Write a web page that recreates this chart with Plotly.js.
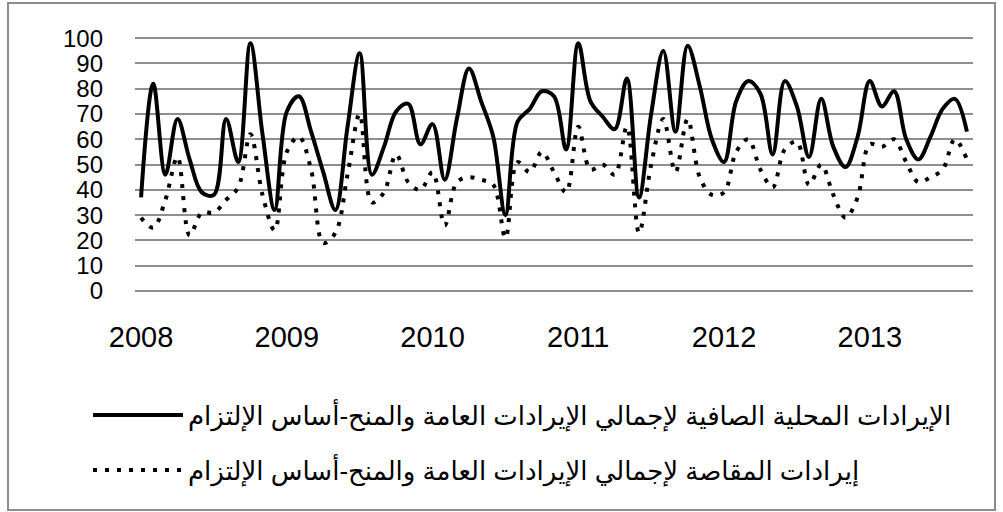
<!DOCTYPE html>
<html>
<head>
<meta charset="utf-8">
<script src="https://cdn.plot.ly/plotly-3.0.1.min.js"></script>
<style>
  html, body { margin: 0; padding: 0; background: #ffffff; }
  #wrap { position: relative; width: 1003px; height: 512px; }
  #chart { position: absolute; left: 0; top: 0; width: 1003px; height: 512px; }
  #frame { position: absolute; left: 7px; top: 2px; width: 985px; height: 505px;
           border: 2px solid #8c8c8c; pointer-events: none; }
</style>
</head>
<body>
<div id="wrap">
  <div id="chart"></div>
  <div id="frame"></div>
</div>
<script>
// Series names (legend, Arabic)
const seriesNames = [
  "الإيرادات المحلية الصافية لإجمالي الإيرادات العامة والمنح-أساس الإلتزام",
  "إيرادات المقاصة لإجمالي الإيرادات العامة والمنح-أساس الإلتزام"
];

// Monthly values, Jan 2008 .. Sep 2013
const netDomestic = [
  37, 82, 46, 68, 52, 39, 38, 68, 51, 98, 62, 32,
  71, 77, 63, 47, 32, 65, 94, 46, 57, 71, 74, 58,
  66, 44, 68, 88, 75, 61, 30, 67, 72, 79, 77, 56,
  98, 75, 69, 64, 84, 37, 70, 95, 63, 97, 81, 60,
  51, 75, 83, 78, 54, 83, 73, 53, 76, 57, 49, 61,
  83, 73, 79, 60, 52, 61, 72, 76, 63
];
const clearance = [
  29, 25, 36, 53, 22, 31, 31, 36, 41, 62, 38, 24,
  55, 61, 48, 19, 23, 46, 70, 35, 39, 54, 43, 40,
  47, 26, 43, 45, 44, 42, 21, 51, 47, 55, 47, 39,
  65, 48, 50, 46, 65, 23, 50, 68, 47, 68, 45, 38,
  39, 55, 60, 48, 41, 56, 59, 42, 50, 38, 29, 37,
  58, 57, 60, 51, 43, 45, 48, 60, 52
];

// Category labels: year-month
const startYear = 2008;
const yearLabels = ["2008", "2009", "2010", "2011", "2012", "2013"];
const months = [];
for (let i = 0; i < netDomestic.length; i++) {
  const y = startYear + Math.floor(i / 12);
  const m = (i % 12) + 1;
  months.push(y + "-" + (m < 10 ? "0" + m : m));
}
const yearTicks = yearLabels.map(y => y + "-01");

const traces = [
  {
    x: months, y: netDomestic, type: "scatter", mode: "lines",
    name: seriesNames[0],
    line: { color: "#000000", width: 4, shape: "spline", smoothing: 1 },
    legend: "legend"
  },
  {
    x: months, y: clearance, type: "scatter", mode: "lines",
    name: seriesNames[1],
    line: { color: "#000000", width: 4, dash: "4px,8px", shape: "spline", smoothing: 1 },
    legend: "legend2"
  }
];

const legendFont = { family: "Arial, 'Liberation Sans', 'DejaVu Sans', sans-serif", size: 26, color: "#000000" };

const layout = {
  width: 1003, height: 512,
  margin: { l: 135, r: 30, t: 28.2, b: 221.3, pad: 0, autoexpand: false },
  paper_bgcolor: "#ffffff", plot_bgcolor: "#ffffff",
  showlegend: true,
  xaxis: {
    type: "category",
    range: [-0.5, months.length - 0.5],
    tickmode: "array", tickvals: yearTicks, ticktext: yearLabels,
    tickangle: 0, automargin: false,
    showgrid: false, zeroline: false, showline: false, ticks: "",
    ticklabelstandoff: 26,
    tickfont: { family: "'Liberation Sans', Arial, sans-serif", size: 29, color: "#000000" }
  },
  yaxis: {
    range: [0, 104], tick0: 0, dtick: 10, automargin: false,
    showgrid: true, gridcolor: "#8e8e8e", gridwidth: 2,
    zeroline: true, zerolinecolor: "#8e8e8e", zerolinewidth: 2,
    showline: false, ticks: "",
    ticklabelstandoff: 31,
    tickfont: { family: "'Liberation Sans', Arial, sans-serif", size: 24, color: "#000000" }
  },
  legend: {
    xref: "container", yref: "container",
    x: 88 / 1003, xanchor: "left", y: (512 - 415) / 512, yanchor: "middle",
    bgcolor: "rgba(0,0,0,0)", borderwidth: 0, itemwidth: 90,
    font: legendFont
  },
  legend2: {
    xref: "container", yref: "container",
    x: 88 / 1003, xanchor: "left", y: (512 - 470) / 512, yanchor: "middle",
    bgcolor: "rgba(0,0,0,0)", borderwidth: 0, itemwidth: 90,
    font: legendFont
  }
};

Plotly.newPlot("chart", traces, layout, { displayModeBar: false, staticPlot: true });
</script>
</body>
</html>
